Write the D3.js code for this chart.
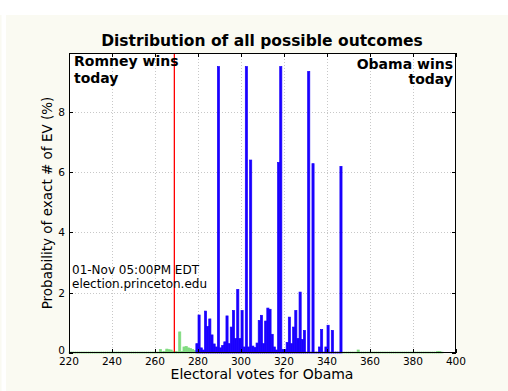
<!DOCTYPE html>
<html><head><meta charset="utf-8">
<script src="https://cdn.jsdelivr.net/npm/d3@7"></script>
<style>body{margin:0;background:#fff}svg{display:block;font-family:"DejaVu Sans",sans-serif}</style>
</head><body><svg id="c" width="508" height="391"></svg>
<script>
// ---- data ----
const lowStart = 221;   // first EV of the low (green) tail
const lowTail = [0.03,0.03,0.03,0.03,0.03,0.03,0.03,0.03,0.03,0.03,
  0.03,0.03,0.03,0.03,0.03,0.03,0.03,0.03,0.03,0.03,
  0.03,0.03,0.03,0.03,0.03,0.03,0.03,0.03,0.03,0.03,
  0.03,0.03,0.03,0.03,0.03,0.03,0.03,0.03,0.03,0.03,
  0.03,0.03,0.12,0.04,0.05,0.13,0.11,0.10,0.05,0.05,
  0.04,0.70,0.05,0.20,0.22,0.17,0.15,0.12,0.08];
const blueStart = 280;
const blueVals = [0.31,1.26,0.17,0.10,1.39,0.88,1.13,0.60,0.30,0.20,
  9.50,0.17,0.25,0.37,1.23,0.31,0.86,1.41,0.48,2.11,
  0.48,1.41,0.20,9.50,0.20,6.40,0.23,0.18,0.33,1.08,
  1.25,0.31,1.06,1.49,1.45,0.62,0.20,0.10,6.32,9.50,
  0.12,0.12,0.35,1.19,0.31,0.86,1.41,0.48,2.02,0.45,
  0.75,0.03,9.34,0.03,6.28,0.03,0.03,0.20,0.78,0.03,
  0.20,0.92,0.03,0.75,0.03,0.03,0.03,6.19];
const highStart = 348;
const highTail = [0.03,0.03,0.03,0.03,0.03,0.03,0.03,0.10,0.03,0.03,
  0.03,0.03,0.03,0.03,0.03,0.03,0.03,0.03,0.03,0.03,
  0.03,0.03,0.03,0.03,0.03,0.03,0.03,0.03,0.03,0.03,
  0.03,0.03,0.03,0.03,0.03,0.03,0.03,0.03,0.03,0.03,
  0.03,0.03,0.03,0.03,0.05,0.05,0.03];
const xTicks = [220,240,260,280,300,320,340,360,380,400];
const yTicks = [0,2,4,6,8];
const tieEV = 269;
const title = "Distribution of all possible outcomes";
const xLabel = "Electoral votes for Obama";
const yLabel = "Probability of exact # of EV (%)";
const stamp = ["01-Nov 05:00PM EDT", "election.princeton.edu"];

// ---- layout ----
const svg = d3.select("#c");
const L = 69, R = 456, T = 53, B = 353;
const x = d3.scaleLinear().domain([220, 400]).range([L, R]);
const y = d3.scaleLinear().domain([0, 9.95]).range([B, T]);
const green = "#7fdb7f", blue = "#1a00ff";

svg.append("rect").attr("x",6).attr("y",15).attr("width",502).attr("height",376).attr("fill","#fafaf2");
svg.append("rect").attr("x",0).attr("y",15).attr("width",1.5).attr("height",376).attr("fill","#fafaf2");
svg.append("rect").attr("x",L).attr("y",T).attr("width",R-L).attr("height",B-T).attr("fill","#fff");

// grid
const g = svg.append("g");
g.selectAll(".gx").data(xTicks.slice(1,-1)).join("line")
  .attr("x1",d=>Math.round(x(d))+0.5).attr("x2",d=>Math.round(x(d))+0.5).attr("y1",T).attr("y2",B)
  .attr("stroke","#c8c8c8").attr("stroke-dasharray","1,2");
g.selectAll(".gy").data(yTicks.slice(1)).join("line")
  .attr("y1",d=>Math.round(y(d))+0.5).attr("y2",d=>Math.round(y(d))+0.5).attr("x1",L).attr("x2",R)
  .attr("stroke","#c8c8c8").attr("stroke-dasharray","1,2");

function bars(vals, start, color){
  const data = vals.map((v,i)=>({ev:start+i, v}));
  svg.append("g").selectAll("rect").data(data).join("rect")
    .attr("x", d=>x(d.ev-1)).attr("width", d=>x(d.ev)-x(d.ev-1))
    .attr("y", d=>y(d.v)).attr("height", d=>y(0)-y(d.v))
    .attr("fill", color).attr("stroke", color).attr("stroke-width", 0.7);
}
bars(lowTail, lowStart, green);
bars(highTail, highStart, green);
bars(blueVals, blueStart, blue);

// tie line
svg.append("line").attr("x1",x(tieEV)).attr("x2",x(tieEV)).attr("y1",T).attr("y2",B)
  .attr("stroke","#ff0000").attr("stroke-width",1.3);

// frame
svg.append("rect").attr("x",L+0.5).attr("y",T+0.5).attr("width",R-L-1).attr("height",B-T-1)
  .attr("fill","none").attr("stroke","#000");

// ticks (inward, all sides)
const tk = svg.append("g").attr("stroke","#000");
xTicks.forEach(t=>{
  const xx = Math.round(x(t))+0.5;
  tk.append("line").attr("x1",xx).attr("x2",xx).attr("y1",B).attr("y2",B-4);
  tk.append("line").attr("x1",xx).attr("x2",xx).attr("y1",T).attr("y2",T+4);
});
yTicks.forEach(t=>{
  const yy = Math.round(y(t))+0.5;
  tk.append("line").attr("x1",L).attr("x2",L+4).attr("y1",yy).attr("y2",yy);
  tk.append("line").attr("x1",R).attr("x2",R-4).attr("y1",yy).attr("y2",yy);
});

// tick labels
svg.append("g").selectAll("text").data(xTicks).join("text")
  .attr("x",d=>x(d)).attr("y",364.5).attr("text-anchor","middle")
  .attr("font-size",10.6).attr("fill","#000").text(d=>d);
svg.append("g").selectAll("text").data(yTicks).join("text")
  .attr("x",65).attr("y",d=>d===0 ? y(d)+1 : y(d)+4).attr("text-anchor","end")
  .attr("font-size",10.6).attr("fill","#000").text(d=>d);

// title and axis labels
svg.append("text").attr("x",262).attr("y",46).attr("text-anchor","middle")
  .attr("font-size",15.5).attr("font-weight","bold").text(title);
svg.append("text").attr("x",262).attr("y",379).attr("text-anchor","middle")
  .attr("font-size",14).text(xLabel);
svg.append("text").attr("transform","translate(52,203) rotate(-90)").attr("text-anchor","middle")
  .attr("font-size",13.5).text(yLabel);

// annotations
const rom = svg.append("text").attr("font-size",14).attr("font-weight","bold");
rom.append("tspan").attr("x",74).attr("y",66).text("Romney wins");
rom.append("tspan").attr("x",74).attr("y",83).text("today");
const oba = svg.append("text").attr("font-size",14).attr("font-weight","bold").attr("text-anchor","end");
oba.append("tspan").attr("x",453).attr("y",69).text("Obama wins");
oba.append("tspan").attr("x",453).attr("y",84).text("today");
const st = svg.append("text").attr("font-size",12);
st.append("tspan").attr("x",72).attr("y",274).text(stamp[0]);
st.append("tspan").attr("x",72).attr("y",288).text(stamp[1]);
</script></body></html>
